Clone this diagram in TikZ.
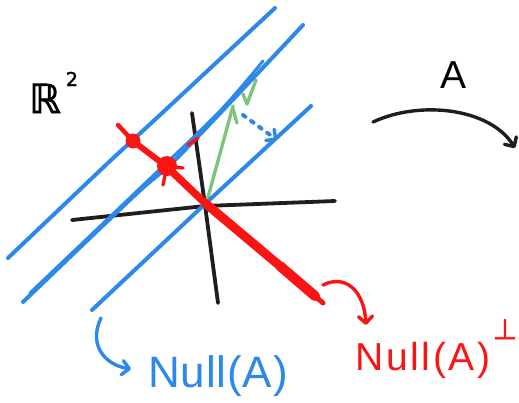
\documentclass[tikz,border=0pt]{standalone}
\usepackage{fontspec}
\setmainfont{Liberation Sans}
\newfontfamily\symfont[FakeBold=2]{DejaVu Sans}
\usetikzlibrary{arrows.meta}
\definecolor{hblue}{RGB}{45,136,235}
\definecolor{hred}{RGB}{250,20,20}
\definecolor{hgreen}{RGB}{125,196,125}
\definecolor{hblack}{RGB}{30,30,30}
\tikzset{
  pen/.style={line cap=round,line join=round},
  bluepen/.style={pen,draw=hblue,line width=4pt},
  blackpen/.style={pen,draw=hblack,line width=3.8pt},
  greenpen/.style={pen,draw=hgreen,line width=3.4pt},
  redpen/.style={pen,draw=hred},
  barb/.style={-{Straight Barb[length=7pt,width=14pt,line width=3.4pt,round]}},
  lbl/.style={inner sep=0pt,anchor=base west},
}
\begin{document}
\begin{tikzpicture}[x=1pt,y=-1pt]
\useasboundingbox (0,0) rectangle (519,402);
% axes
\draw[blackpen] (72,220) -- (205,206) -- (335,201);
\draw[blackpen] (192,113) -- (205,205) -- (218,303);
% green vector
\coordinate (o) at (207,201);
\coordinate (g) at (233,106);
\draw[greenpen] (o) -- (g);
\draw[greenpen] (233,109) -- (237,123);
\draw[greenpen] (243,94) -- (247,104) -- (256,80);
% blue lines
\draw[bluepen] (8,258) -- (110,161) -- (160,115) -- (275,8);
\draw[bluepen] plot[smooth] coordinates {(23,302) (135,195) (182,153) (303,25)};
\draw[bluepen,line width=3pt] plot[smooth] coordinates {(30,293) (137,191) (218,113) (263,61)};
\draw[bluepen] (92,310) -- (205,204) -- (311,106);
% dotted blue arrow
\coordinate (d1) at (243,115);
\coordinate (d2) at (277,140);
\draw[bluepen,dash pattern=on 3pt off 7pt,barb] (d1) -- (d2);
% red line (tapered)
\draw[redpen,line width=4.5pt] (118,125) -- (133,141);
\draw[redpen,line width=6pt] (133,141) -- (167,167);
\draw[redpen,line width=7.5pt] (167,167) -- (205,203);
\draw[redpen,line width=9pt] (205,203) -- (280,266);
\draw[redpen,line width=10pt] (280,266) -- (315,296);
\draw[redpen,line width=5pt] (315,296) -- (323,303);
\draw[redpen,line width=3.4pt] (188,145) -- (198,138);
\fill[hred] (133,141) circle (7.5);
\fill[hred] (167,166) circle (10);
\draw[redpen,line width=3.4pt] (167,166) -- (183,168);
\draw[redpen,line width=3.4pt] (167,166) -- (163,185);
% R^2
\node[lbl] (r2) at (29,113) {\fontsize{40}{40}\symfont ℝ\hspace{5pt}\raisebox{27pt}{\fontsize{19}{19}\symfont 2}};
% A and its arrow
\node[lbl] (A) at (440,88) {\fontsize{39}{39}\selectfont A};
\coordinate (a1) at (373,122);
\coordinate (a2) at (515,148);
\draw[blackpen,line width=3.4pt,barb] (a1) .. controls (420,100) and (490,108) .. (a2);
% labels at the bottom
\node[lbl,text=hblue] (nullA) at (148,387) {\fontsize{44}{44}\selectfont\addfontfeature{LetterSpace=2}Null(A)};
\node[lbl,text=hred] (perpA) at (355,370) {\fontsize{39}{39}\selectfont\addfontfeature{LetterSpace=7}Null(A)\hspace{2pt}\raisebox{31pt}{\fontsize{28}{28}\symfont ⊥}};
\coordinate (b1) at (101,318);
\coordinate (b2) at (131,369);
\draw[bluepen,line width=3.4pt,barb] (b1) .. controls (88,345) and (105,365) .. (b2);
\coordinate (c1) at (323,285);
\coordinate (c2) at (366,325);
\draw[redpen,line width=3.4pt,barb] (c1) .. controls (345,274) and (364,290) .. (c2);
\end{tikzpicture}
\end{document}
